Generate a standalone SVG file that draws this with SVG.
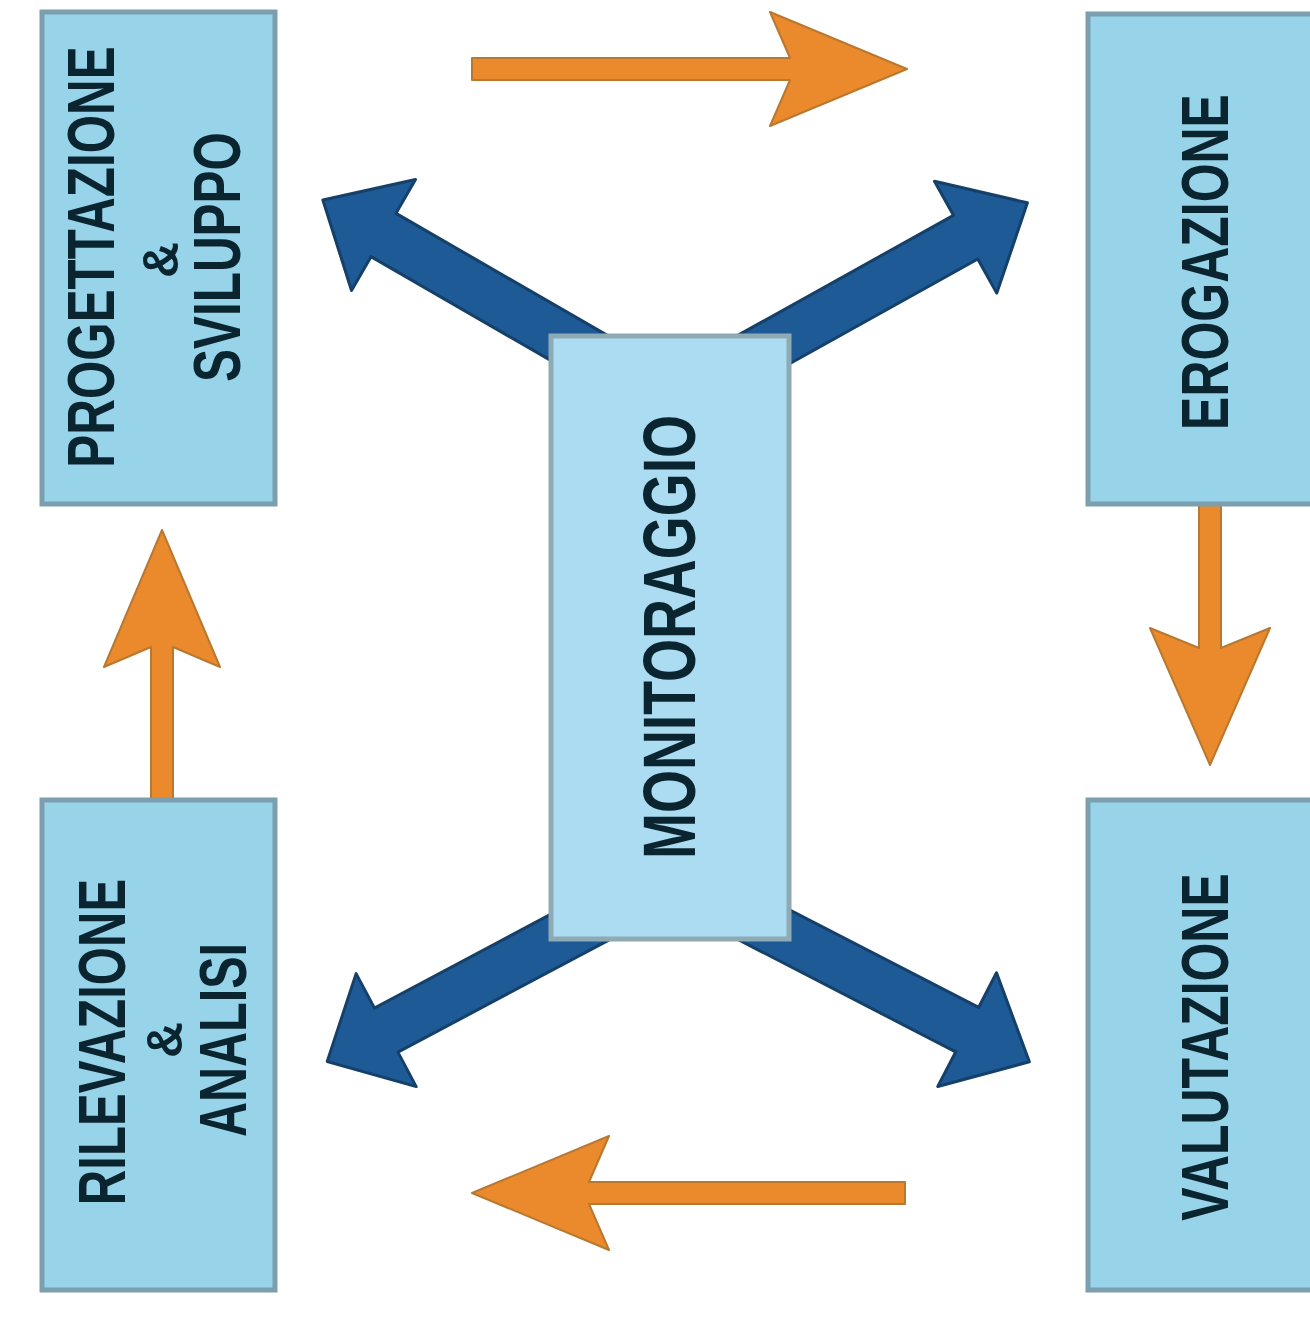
<svg xmlns="http://www.w3.org/2000/svg" width="1310" height="1319" viewBox="0 0 1310 1319">
<style>
.box{fill:#97d4ea;stroke:#7b9fae;stroke-width:5}
.cbox{fill:#acdcf2;stroke:#8eaab5;stroke-width:5}
.lbl{font-family:"Liberation Sans",Arial,sans-serif;font-weight:bold;fill:#0b2530;text-anchor:middle}
.big{font-size:66px}
.mon{font-size:74px}
.amp{font-size:50px}
.blue{fill:#1e5a96;stroke:#15406a;stroke-width:3;stroke-linejoin:round}
.orange{fill:#ea8a2c;stroke:#b9782f;stroke-width:2;stroke-linejoin:round}
</style>
<defs>
<path id="barrow" d="M0,-25 L250,-25 L250,-64 L320,0 L250,64 L250,25 L0,25 Z"/>
</defs>
<rect width="1310" height="1319" fill="#ffffff"/>
<g id="connectors">
<path class="orange" d="M472,58 L790,58 L770,12 L907,69 L770,126 L790,80 L472,80 Z"/>
<path class="orange" d="M1199,505 L1199,648 L1150,628 L1210,765 L1270,628 L1221,648 L1221,505 Z"/>
<path class="orange" d="M905,1182 L589,1182 L609,1136 L472,1193 L609,1250 L589,1204 L905,1204 Z"/>
<path class="orange" d="M151,800 L151,647 L104,667 L162,530 L220,667 L173,647 L173,800 Z"/>
<use href="#barrow" class="blue" transform="translate(600,360) rotate(210)"/>
<use href="#barrow" class="blue" transform="translate(745,360) rotate(-29.1) scale(1.01,1)"/>
<use href="#barrow" class="blue" transform="translate(597,918) rotate(152) scale(0.955,1)"/>
<use href="#barrow" class="blue" transform="translate(745,915) rotate(27.3)"/>
</g>
<g id="node-progettazione">
<rect class="box" x="42" y="12" width="233" height="492"/>
<text class="lbl big" transform="translate(114,257) rotate(-90) scale(0.748,1)">PROGETTAZIONE</text>
<text class="lbl amp" transform="translate(178,260) rotate(-90)">&amp;</text>
<text class="lbl big" transform="translate(240,257) rotate(-90) scale(0.749,1)">SVILUPPO</text>
</g>
<g id="node-rilevazione">
<rect class="box" x="42" y="800" width="233" height="490"/>
<text class="lbl big" transform="translate(125,1042) rotate(-90) scale(0.744,1)">RILEVAZIONE</text>
<text class="lbl amp" transform="translate(182,1040) rotate(-90)">&amp;</text>
<text class="lbl big" transform="translate(246,1040) rotate(-90) scale(0.735,1)">ANALISI</text>
</g>
<g id="node-erogazione">
<rect class="box" x="1088" y="14" width="260" height="490"/>
<text class="lbl big" transform="translate(1228,262) rotate(-90) scale(0.757,1)">EROGAZIONE</text>
</g>
<g id="node-valutazione">
<rect class="box" x="1088" y="800" width="260" height="490"/>
<text class="lbl big" transform="translate(1228,1047) rotate(-90) scale(0.756,1)">VALUTAZIONE</text>
</g>
<g id="node-monitoraggio">
<rect class="cbox" x="551" y="336" width="238" height="603"/>
<text class="lbl mon" transform="translate(695,637) rotate(-90) scale(0.747,1)">MONITORAGGIO</text>
</g>
</svg>
